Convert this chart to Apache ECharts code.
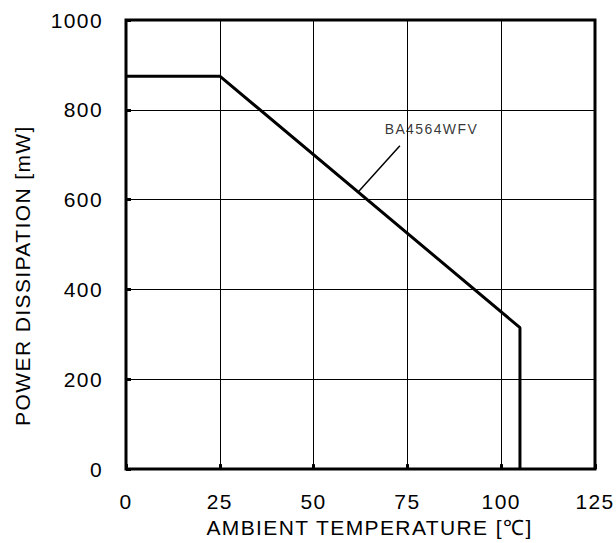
<!DOCTYPE html>
<html><head><meta charset="utf-8">
<script src="https://cdn.jsdelivr.net/npm/echarts@6/dist/echarts.min.js"></script>
<style>html,body{margin:0;padding:0;background:#fff}#c{width:616px;height:543px}#c svg text{letter-spacing:1.4px}</style>
</head><body><div id="c"></div>
<script>
const xTicks = [0, 25, 50, 75, 100, 125];
const yTicks = [0, 200, 400, 600, 800, 1000];
const curveTemp = [0, 25, 105, 105];
const curvePower = [875, 875, 315, 0];
const leaderTemp = [73, 62];
const leaderPower = [720, 618];
const labelName = 'BA4564WFV';
const labelPos = [81.4, 758];

const font = 'Liberation Sans, Arial, sans-serif';
const chart = echarts.init(document.getElementById('c'), null, { renderer: 'svg' });
chart.setOption({
  animation: false,
  backgroundColor: '#fff',
  grid: { left: 126, right: 21, top: 20, bottom: 72, show: true, borderColor: '#000', borderWidth: 3 },
  xAxis: {
    type: 'value', min: xTicks[0], max: xTicks[xTicks.length - 1], interval: 25,
    name: 'AMBIENT TEMPERATURE [\u2103]', nameLocation: 'middle', nameGap: 45,
    nameTextStyle: { fontFamily: font, fontSize: 21, color: '#000', verticalAlign: 'top', padding: [0, 0, 0, 18] },
    axisLine: { show: false },
    axisTick: { show: true, inside: true, length: 5, lineStyle: { color: '#000', width: 3 } },
    axisLabel: { fontFamily: font, fontSize: 21, color: '#000', margin: 22 },
    splitLine: { show: true, lineStyle: { color: '#000', width: 1 } }
  },
  yAxis: {
    type: 'value', min: yTicks[0], max: yTicks[yTicks.length - 1], interval: 200,
    name: 'POWER DISSIPATION [mW]', nameLocation: 'middle', nameGap: 93,
    nameTextStyle: { fontFamily: font, fontSize: 21, color: '#000', padding: [0, 62, 0, 0] },
    axisLine: { show: false },
    axisTick: { show: true, inside: true, length: 5, lineStyle: { color: '#000', width: 3 } },
    axisLabel: { fontFamily: font, fontSize: 21, color: '#000', margin: 23, formatter: v => String(v) },
    splitLine: { show: true, lineStyle: { color: '#000', width: 1 } }
  },
  series: [
    {
      type: 'line', symbol: 'none', z: 5,
      data: curveTemp.map((t, i) => [t, curvePower[i]]),
      lineStyle: { color: '#000', width: 3 }
    },
    {
      type: 'line', symbol: 'none', z: 5,
      data: leaderTemp.map((t, i) => [t, leaderPower[i]]),
      lineStyle: { color: '#000', width: 1.5 }
    },
    {
      type: 'scatter', symbolSize: 0, z: 6,
      data: [labelPos],
      label: { show: true, position: 'inside', formatter: labelName, fontFamily: font, fontSize: 14, color: '#000' }
    }
  ]
});
</script></body></html>
